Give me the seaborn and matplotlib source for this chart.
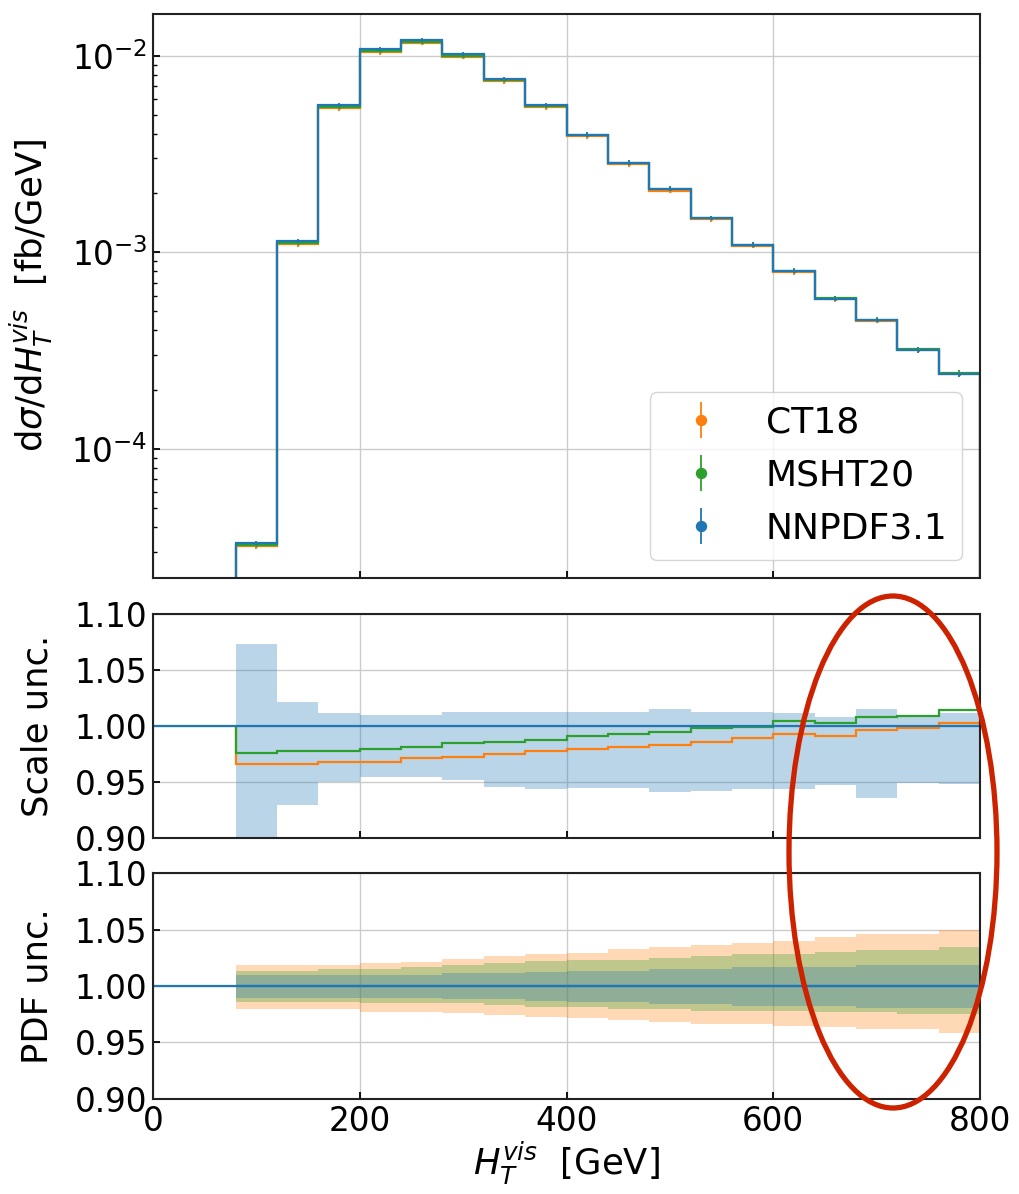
import numpy as np
import pandas as pd
import seaborn as sns
import matplotlib
matplotlib.use("Agg")
import matplotlib.pyplot as plt
from matplotlib.patches import Ellipse

# bin edges of H_T^vis [GeV]
edges = [80, 120, 160, 200, 240, 280, 320, 360, 400, 440, 480, 520, 560, 600, 640, 680, 720, 760, 800]

# differential cross sections [fb/GeV]
nnpdf = [3.3e-5, 1.14e-3, 5.6e-3, 1.08e-2, 1.20e-2, 1.015e-2, 7.6e-3, 5.6e-3, 3.97e-3,
         2.86e-3, 2.10e-3, 1.49e-3, 1.09e-3, 8.0e-4, 5.8e-4, 4.5e-4, 3.18e-4, 2.4e-4]
ct18 = [3.19e-5, 1.101e-3, 5.42e-3, 1.045e-2, 1.165e-2, 9.87e-3, 7.41e-3, 5.48e-3, 3.89e-3,
        2.81e-3, 2.06e-3, 1.47e-3, 1.08e-3, 7.94e-4, 5.75e-4, 4.48e-4, 3.17e-4, 2.41e-4]
msht20 = [3.22e-5, 1.115e-3, 5.48e-3, 1.057e-2, 1.177e-2, 9.99e-3, 7.49e-3, 5.53e-3, 3.93e-3,
          2.84e-3, 2.09e-3, 1.487e-3, 1.089e-3, 8.04e-4, 5.82e-4, 4.54e-4, 3.21e-4, 2.43e-4]
rel_err = [0.03] * 18

# ratios to NNPDF3.1 central value
ratio_ct18 = [0.966, 0.966, 0.9676, 0.9676, 0.971, 0.9726, 0.9747, 0.9777, 0.9795,
              0.981, 0.983, 0.986, 0.9896, 0.9929, 0.991, 0.996, 0.998, 1.0027]
ratio_msht = [0.976, 0.9777, 0.9777, 0.979, 0.981, 0.9845, 0.986, 0.9878, 0.991,
              0.9929, 0.9946, 0.998, 0.999, 1.0045, 1.003, 1.0083, 1.0092, 1.0143]

# scale uncertainty envelope (NNPDF3.1)
scale_up = [1.073, 1.021, 1.0113, 1.0095, 1.0095, 1.0128, 1.0128, 1.0128, 1.0128,
            1.0128, 1.0149, 1.0128, 1.0128, 1.0113, 1.008, 1.0149, 1.008, 1.0113]
scale_lo = [0.88, 0.929, 0.950, 0.9547, 0.954, 0.952, 0.9455, 0.9437, 0.945,
            0.945, 0.941, 0.942, 0.9437, 0.9437, 0.947, 0.9357, 0.9494, 0.948]

# PDF uncertainty bands
ct18_up = [1.0183, 1.0183, 1.0183, 1.0201, 1.0216, 1.0236, 1.0269, 1.0284, 1.0295,
           1.033, 1.0349, 1.0366, 1.0384, 1.0399, 1.0431, 1.0464, 1.0464, 1.0496]
ct18_lo = [0.9793, 0.9793, 0.9793, 0.9773, 0.9773, 0.9758, 0.9743, 0.9728, 0.9719,
           0.9699, 0.9684, 0.9666, 0.9666, 0.9648, 0.9634, 0.9616, 0.9616, 0.9583]
msht_up = [1.0133, 1.0133, 1.0154, 1.0154, 1.0171, 1.0189, 1.0204, 1.0224, 1.023,
           1.023, 1.0248, 1.0269, 1.0281, 1.0281, 1.0299, 1.0316, 1.0316, 1.0349]
msht_lo = [0.986, 0.986, 0.986, 0.9846, 0.9846, 0.9846, 0.983, 0.9814, 0.9814,
           0.9799, 0.9799, 0.9781, 0.9781, 0.9781, 0.9767, 0.9767, 0.9749, 0.9749]
nnpdf_up = [1.0098, 1.0098, 1.0098, 1.0098, 1.0098, 1.0112, 1.0112, 1.0125, 1.0133,
            1.0133, 1.0151, 1.0151, 1.0166, 1.0166, 1.0166, 1.0183, 1.0183, 1.0183]
nnpdf_lo = [0.9897, 0.9897, 0.9897, 0.9897, 0.9897, 0.9882, 0.9882, 0.987, 0.9855,
            0.9855, 0.984, 0.984, 0.9825, 0.9825, 0.9825, 0.9808, 0.9808, 0.9808]

sns.set_style("ticks")
plt.rcParams['font.family'] = ['DejaVu Sans']
plt.rcParams['mathtext.fontset'] = 'dejavusans'
plt.rcParams['text.color'] = 'black'
plt.rcParams['axes.labelcolor'] = 'black'
plt.rcParams['xtick.color'] = 'black'
plt.rcParams['ytick.color'] = 'black'

FS_TICK = 23.5
FS_LAB = 25.5
c_ct, c_ms, c_nn = '#ff7f0e', '#2ca02c', '#1f77b4'
centers = [(a + b) / 2 for a, b in zip(edges[:-1], edges[1:])]


def ext(v):
    return list(v) + [v[-1]]


fig = plt.figure(figsize=(10.2, 11.94), dpi=100)
ax1 = fig.add_axes([0.15, 0.5159, 0.8108, 0.4724])
ax2 = fig.add_axes([0.15, 0.2982, 0.8108, 0.1876])
ax3 = fig.add_axes([0.15, 0.0796, 0.8108, 0.1892])

# top panel: distributions
for vals, col, lab in [(ct18, c_ct, 'CT18'), (msht20, c_ms, 'MSHT20'), (nnpdf, c_nn, 'NNPDF3.1')]:
    ax1.stairs(vals, edges, baseline=1e-7, color=col, lw=1.6)
    err = [v * e for v, e in zip(vals, rel_err)]
    ax1.errorbar(centers, vals, yerr=err, fmt='o', ms=1.2, color=col, elinewidth=1.3, label=lab)
ax1.set_yscale('log')
ax1.set_ylim(2.2e-5, 1.63e-2)
ax1.set_ylabel(r'd$\sigma$/d$H_T^{vis}$  [fb/GeV]', fontsize=FS_LAB)
ax1.legend(loc='lower right', fontsize=26, markerscale=6, borderpad=0.4, labelspacing=0.52,
           handletextpad=0.8, borderaxespad=0.5, handlelength=2.0)
ax1.tick_params(labelbottom=False)

# middle panel: scale uncertainty
ax2.fill_between(edges, ext(scale_lo), ext(scale_up), step='post', color=c_nn, alpha=0.3, lw=0)
ax2.stairs(ratio_ct18, edges, baseline=1.0, color=c_ct, lw=1.6)
ax2.stairs(ratio_msht, edges, baseline=1.0, color=c_ms, lw=1.6)
ax2.axhline(1.0, color=c_nn, lw=1.6)
ax2.set_ylabel('Scale unc.', fontsize=FS_LAB)
ax2.tick_params(labelbottom=False)

# bottom panel: PDF uncertainty
for lo, up, col in [(ct18_lo, ct18_up, c_ct), (msht_lo, msht_up, c_ms), (nnpdf_lo, nnpdf_up, c_nn)]:
    ax3.fill_between(edges, ext(lo), ext(up), step='post', color=col, alpha=0.3, lw=0)
df = pd.DataFrame({'x': edges, 'y': [1.0] * len(edges)})
sns.lineplot(data=df, x='x', y='y', ax=ax3, color=c_nn, lw=1.6, drawstyle='steps-post')
ax3.axhline(1.0, color=c_nn, lw=1.6)
ax3.set_ylabel('PDF unc.', fontsize=FS_LAB)
ax3.set_xlabel(r'$H_T^{vis}$  [GeV]', fontsize=FS_LAB, labelpad=2)

for ax in (ax2, ax3):
    ax.set_ylim(0.9, 1.1)
    ax.set_yticks([0.90, 0.95, 1.00, 1.05, 1.10])
    ax.set_yticklabels(['0.90', '0.95', '1.00', '1.05', '1.10'])

for ax in (ax1, ax2, ax3):
    ax.set_xlim(0, 800)
    ax.set_xticks([0, 200, 400, 600, 800])
    ax.grid(True, which='major', color='#cccccc', lw=1.0)
    ax.tick_params(axis='both', which='major', labelsize=FS_TICK, direction='in', length=5, width=1.3, pad=4)
    ax.tick_params(axis='both', which='minor', direction='in', length=3, width=1.0)
    for s in ax.spines.values():
        s.set_visible(True)
        s.set_linewidth(1.5)
        s.set_color('#222222')
    ax.yaxis.set_label_coords(-0.119, 0.5)

# highlight ellipse
fig.patches.append(Ellipse((893 / 1020, 1 - 852 / 1194), 208 / 1020, 512 / 1194,
                           transform=fig.transFigure, fill=False, ec='#cc2200', lw=3.8))

fig.savefig('out.png', dpi=100)
